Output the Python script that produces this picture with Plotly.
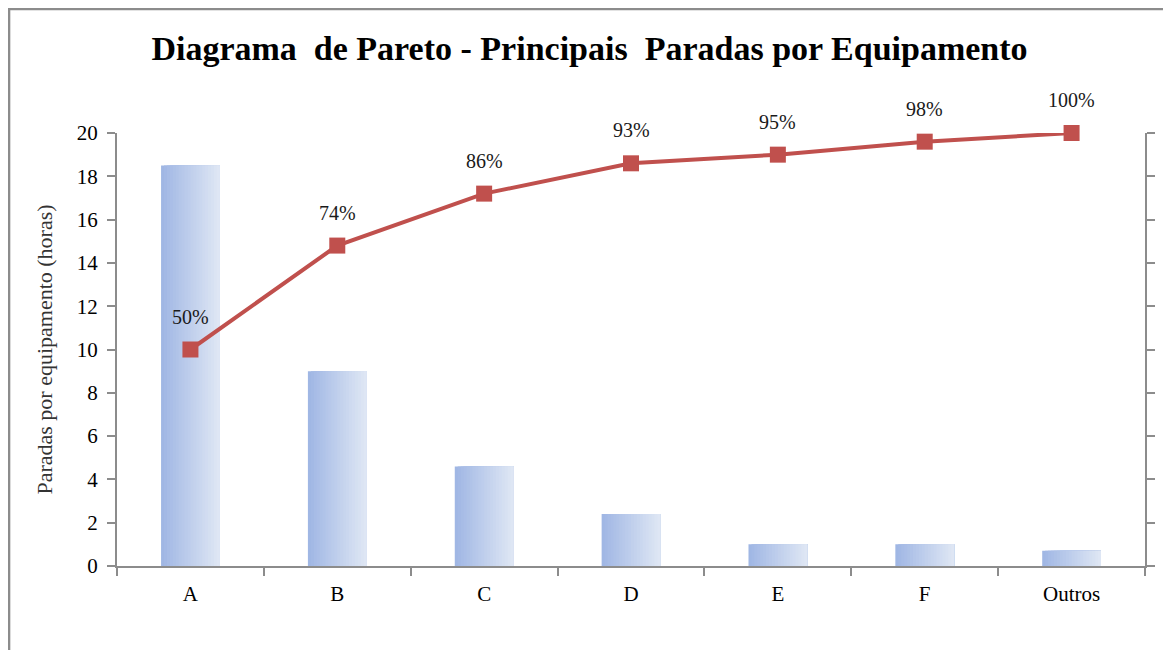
import plotly.graph_objects as go

categories = ["A", "B", "C", "D", "E", "F", "Outros"]
horas = [18.5, 9.0, 4.6, 2.4, 1.0, 1.0, 0.7]
acumulado_pct = [50, 74, 86, 93, 95, 98, 100]
y_ticks = [0, 2, 4, 6, 8, 10, 12, 14, 16, 18, 20]

SERIF = "Liberation Serif, Times New Roman, serif"
AXIS_GRAY = "#8c8c8c"

# horizontal gradient for the bars: overlaid copies of the same bars, each one
# starting a little further right and running to the bar's right edge
BAR_W = 0.4
N_SLICES = 20
c_left = (160, 183, 228)
c_right = (222, 230, 244)

fig = go.Figure()
for i in range(N_SLICES):
    t = i / (N_SLICES - 1)
    col = tuple(round(a + (b - a) * t) for a, b in zip(c_left, c_right))
    start = i * BAR_W / N_SLICES
    fig.add_trace(go.Bar(
        x=categories, y=horas,
        width=BAR_W - start,
        offset=-BAR_W / 2 + start,
        marker=dict(color=f"rgb{col}", line=dict(width=0)),
        showlegend=False, hoverinfo="x+y" if i == 0 else "skip",
    ))
fig.add_trace(go.Scatter(
    x=categories, y=acumulado_pct, yaxis="y2", mode="lines+markers",
    line=dict(color="#c0504d", width=4),
    marker=dict(symbol="square", size=16, color="#c0504d"),
    cliponaxis=False, showlegend=False,
))

for c, p in zip(categories, acumulado_pct):
    fig.add_annotation(x=c, y=p, yref="y2", text=f"{p}%", showarrow=False,
                       yshift=33, font=dict(family=SERIF, size=20, color="#1a1a1a"))

fig.update_layout(
    width=1163, height=642,
    margin=dict(l=109, r=26, t=125, b=84),
    paper_bgcolor="white", plot_bgcolor="white",
    barmode="overlay",
    title=dict(text="<b>Diagrama  de Pareto - Principais  Paradas por Equipamento</b>",
               x=0.5, xanchor="center", y=0.938, yanchor="middle",
               font=dict(family=SERIF, size=34, color="black")),
    font=dict(family=SERIF, size=21, color="black"),
    xaxis=dict(showline=True, linecolor=AXIS_GRAY, linewidth=2,
               ticks="outside", tickson="boundaries", ticklen=8, tickcolor=AXIS_GRAY,
               tickwidth=2, tickfont=dict(family=SERIF, size=21, color="black"),
               ticklabelstandoff=8,
               showgrid=False, zeroline=False),
    yaxis=dict(range=[0, 20], tickvals=y_ticks, showline=True, linecolor=AXIS_GRAY,
               linewidth=2, ticks="outside", ticklen=8, tickcolor=AXIS_GRAY, tickwidth=2,
               tickfont=dict(family=SERIF, size=21, color="black"), showgrid=False,
               ticklabelstandoff=5, zeroline=False,
               title=dict(text="Paradas por equipamento (horas)",
                          font=dict(family=SERIF, size=22, color="#333333"), standoff=18)),
    yaxis2=dict(range=[0, 100], overlaying="y", side="right", dtick=10,
                showline=True, linecolor=AXIS_GRAY, linewidth=2, ticks="outside",
                ticklen=8, tickcolor=AXIS_GRAY, tickwidth=2, showticklabels=False,
                showgrid=False, zeroline=False),
)

fig.add_shape(type="rect", xref="paper", yref="paper",
              x0=-0.105, x1=1.2, y0=-0.5, y1=1.2864,
              line=dict(color=AXIS_GRAY, width=2.5), fillcolor="rgba(0,0,0,0)",
              layer="below")

fig.write_html("out.html")
